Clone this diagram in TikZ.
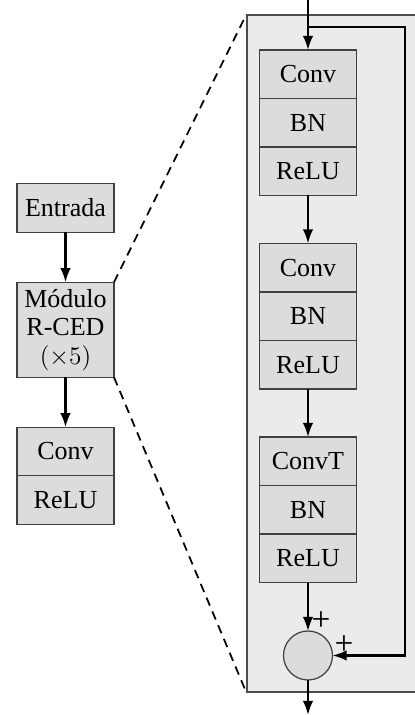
\documentclass[tikz,border=0pt]{standalone}
\usepackage{fontspec}
\setmainfont{Liberation Serif}
\usetikzlibrary{arrows.meta, positioning, calc}
\definecolor{cellgray} {RGB}{220,220,220}
\definecolor{panelgray}{RGB}{235,235,235}

\begin{document}
\begin{tikzpicture}[
  cell/.style={rectangle, draw=black!75, fill=cellgray, line width=0.7pt,
    minimum width=1.94cm, minimum height=0.97cm, inner sep=0pt, outer sep=0pt,
    font=\fontsize{14.8}{16.2}\selectfont, align=center},
  sumnode/.style={circle, draw=black!75, fill=cellgray, line width=0.7pt,
    minimum size=0.98cm, inner sep=0pt, outer sep=0pt},
  farr/.style={-{Latex[length=8pt,width=6pt]}, line width=1.3pt},
  zoomline/.style={dash pattern=on 5pt off 3.5pt, line width=1pt},
  plus/.style={font=\fontsize{19}{20}\selectfont, inner sep=0pt},
]
\useasboundingbox (0,0) rectangle (8.28,-14.3);
%% Zoomed panel (right edge runs off the page)
\node[rectangle, draw=black!70, fill=panelgray, line width=0.7pt,
      minimum width=3.76cm, minimum height=13.54cm, inner sep=0pt]
  (panel) at (6.82,-7.07) {};
%% Main network
\node[cell] (entrada) at (1.31,-4.16) {Entrada};
\node[cell, minimum height=1.90cm, below=1.0cm of entrada]
  (modulo) {Módulo\\R-CED\\$(\times 5)$};
\node[cell, below=1.0cm of modulo] (conv) {Conv};
\node[cell, below=0pt of conv] (relu) {ReLU};
%% R-CED module
\node[cell] (conv1) at (6.16,-1.485) {Conv};
\node[cell, below=0pt of conv1] (bn1) {BN};
\node[cell, below=0pt of bn1] (relu1) {ReLU};
\node[cell, below=0.96cm of relu1] (conv2) {Conv};
\node[cell, below=0pt of conv2] (bn2) {BN};
\node[cell, below=0pt of bn2] (relu2) {ReLU};
\node[cell, below=0.96cm of relu2] (convt3) {ConvT};
\node[cell, below=0pt of convt3] (bn3) {BN};
\node[cell, below=0pt of bn3] (relu3) {ReLU};
\node[sumnode, below=0.97cm of relu3] (sum) {};
\node[plus] (plusa) at (6.42,-12.42) {+};
\node[plus] (plusb) at (6.88,-12.90) {+};
%% Free ends
\coordinate (in)    at (6.16,0);
\coordinate (split) at (6.16,-0.54);
\coordinate (loop)  at (8.10,-0.54);
\coordinate (out)   at (6.16,-14.3);
%% Zoom lines
\draw[zoomline] (modulo.north east) -- (panel.north west);
\draw[zoomline] (modulo.south east) -- (panel.south west);
%% Arrows
\draw[farr] (entrada) -- (modulo);
\draw[farr] (modulo) -- (conv);
\draw[farr] (in) -- (conv1.north);
\draw[farr] (relu1) -- (conv2);
\draw[farr] (relu2) -- (convt3);
\draw[farr] (relu3) -- (sum);
\draw[farr] (split) -- (loop) |- (sum.east);
\draw[farr] (sum) -- (out);
\end{tikzpicture}
\end{document}
